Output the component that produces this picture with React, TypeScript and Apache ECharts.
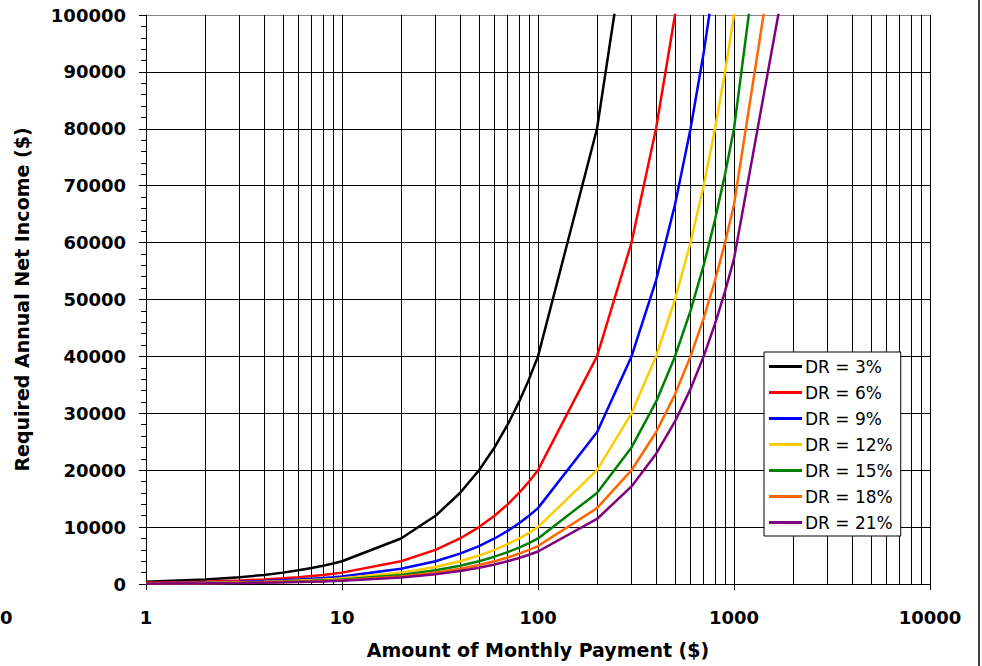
import React, { useEffect, useRef } from "react";
import * as echarts from "echarts";

const payments = [1, 2, 3, 4, 5, 6, 7, 8, 9, 10, 20, 30, 40, 50, 60, 70, 80, 90, 100, 200, 300, 400, 500, 600, 700, 800, 900, 1000, 2000];

const seriesNames = ["DR = 3%", "DR = 6%", "DR = 9%", "DR = 12%", "DR = 15%", "DR = 18%", "DR = 21%"];
const seriesColors = ["#000000", "#FF0000", "#0000FF", "#FFCC00", "#008000", "#FF6600", "#800080"];

const dr3 = [400, 800, 1200, 1600, 2000, 2400, 2800, 3200, 3600, 4000, 8000, 12000, 16000, 20000, 24000, 28000, 32000, 36000, 40000, 80000, 120000, 160000, 200000, 240000, 280000, 320000, 360000, 400000, 800000];
const dr6 = [200, 400, 600, 800, 1000, 1200, 1400, 1600, 1800, 2000, 4000, 6000, 8000, 10000, 12000, 14000, 16000, 18000, 20000, 40000, 60000, 80000, 100000, 120000, 140000, 160000, 180000, 200000, 400000];
const dr9 = [133, 267, 400, 533, 667, 800, 933, 1067, 1200, 1333, 2667, 4000, 5333, 6667, 8000, 9333, 10667, 12000, 13333, 26667, 40000, 53333, 66667, 80000, 93333, 106667, 120000, 133333, 266667];
const dr12 = [100, 200, 300, 400, 500, 600, 700, 800, 900, 1000, 2000, 3000, 4000, 5000, 6000, 7000, 8000, 9000, 10000, 20000, 30000, 40000, 50000, 60000, 70000, 80000, 90000, 100000, 200000];
const dr15 = [80, 160, 240, 320, 400, 480, 560, 640, 720, 800, 1600, 2400, 3200, 4000, 4800, 5600, 6400, 7200, 8000, 16000, 24000, 32000, 40000, 48000, 56000, 64000, 72000, 80000, 160000];
const dr18 = [67, 133, 200, 267, 333, 400, 467, 533, 600, 667, 1333, 2000, 2667, 3333, 4000, 4667, 5333, 6000, 6667, 13333, 20000, 26667, 33333, 40000, 46667, 53333, 60000, 66667, 133333];
const dr21 = [57, 114, 171, 229, 286, 343, 400, 457, 514, 571, 1143, 1714, 2286, 2857, 3429, 4000, 4571, 5143, 5714, 11429, 17143, 22857, 28571, 34286, 40000, 45714, 51429, 57143, 114286];

const seriesValues = [dr3, dr6, dr9, dr12, dr15, dr18, dr21];

const minorGridX = [2, 3, 4, 5, 6, 7, 8, 9, 20, 30, 40, 50, 60, 70, 80, 90, 200, 300, 400, 500, 600, 700, 800, 900, 2000, 3000, 4000, 5000, 6000, 7000, 8000, 9000];

const FONT = "'DejaVu Sans', 'Liberation Sans', Arial, sans-serif";

export default function App() {
  const ref = useRef<HTMLDivElement>(null);
  useEffect(() => {
    if (!ref.current) return;
    const chart = echarts.init(ref.current, null, { renderer: "svg" });
    const series: any[] = seriesNames.map((name, i) => ({
      name,
      type: "line",
      data: payments.map((p, j) => [p, seriesValues[i][j]]),
      showSymbol: false,
      symbol: "none",
      clip: true,
      z: 3,
      lineStyle: { color: seriesColors[i], width: 2.5 },
      itemStyle: { color: seriesColors[i] },
    }));
    series[0].markLine = {
      silent: true,
      z: 1,
      symbol: "none",
      label: { show: false },
      lineStyle: { color: "#000", width: 1, type: "solid" },
      emphasis: { disabled: true },
      data: minorGridX.map((v) => ({ xAxis: v })),
    };
    const splitColors = Array.from({ length: 11 }, (_, i) => (i === 10 ? "#888888" : "#000000"));
    chart.setOption({
      animation: false,
      textStyle: { fontFamily: FONT },
      grid: { left: 146, top: 15, right: 52, bottom: 82, containLabel: false },
      legend: {
        data: seriesNames,
        orient: "vertical",
        left: 764,
        top: 352,
        icon: "rect",
        itemWidth: 33,
        itemHeight: 3,
        itemGap: 7,
        backgroundColor: "#fff",
        borderColor: "#000",
        borderWidth: 1,
        padding: [5, 8, 4, 5],
        textStyle: { fontSize: 17, fontFamily: FONT, color: "#000", padding: [0, 0, 0, -2], lineHeight: 19 },
      },
      xAxis: {
        type: "log",
        logBase: 10,
        min: 1,
        max: 10000,
        name: "Amount of Monthly Payment ($)",
        nameLocation: "middle",
        nameGap: 56,
        nameTextStyle: { fontSize: 19, fontWeight: "bold", color: "#000", fontFamily: FONT },
        axisLine: { show: true, lineStyle: { color: "#000", width: 1 } },
        axisTick: { show: true, length: 6, lineStyle: { color: "#000" } },
        axisLabel: {
          fontSize: 18,
          fontWeight: "bold",
          color: "#000",
          margin: 24,
          fontFamily: FONT,
          formatter: (v: number) => String(Math.round(v)),
        },
        splitLine: { show: true, lineStyle: { color: "#000", width: 1 } },
      },
      yAxis: {
        type: "value",
        min: 0,
        max: 100000,
        interval: 10000,
        name: "Required Annual Net Income ($)",
        nameLocation: "middle",
        nameGap: 115,
        nameTextStyle: { fontSize: 19, fontWeight: "bold", color: "#000", fontFamily: FONT },
        axisLine: { show: true, lineStyle: { color: "#000", width: 1 } },
        axisTick: { show: true, length: 7, lineStyle: { color: "#000" } },
        minorTick: { show: true, splitNumber: 5, length: 5, lineStyle: { color: "#000" } },
        axisLabel: {
          fontSize: 18,
          fontWeight: "bold",
          color: "#000",
          margin: 20,
          fontFamily: FONT,
          formatter: (v: number) => String(Math.round(v)),
        },
        splitLine: { show: true, lineStyle: { color: splitColors, width: 1 } },
      },
      graphic: [
        { type: "text", left: 0, top: 608, style: { text: "0", font: `bold 18px ${FONT}`, fill: "#000" } },
        { type: "line", shape: { x1: 979, y1: 0, x2: 979, y2: 666 }, style: { stroke: "#000", lineWidth: 1.5 } },
      ],
      series,
    });
    return () => chart.dispose();
  }, []);
  return <div ref={ref} style={{ position: "fixed", left: 0, top: 0, width: 982, height: 666, background: "#fff" }} />;
}
